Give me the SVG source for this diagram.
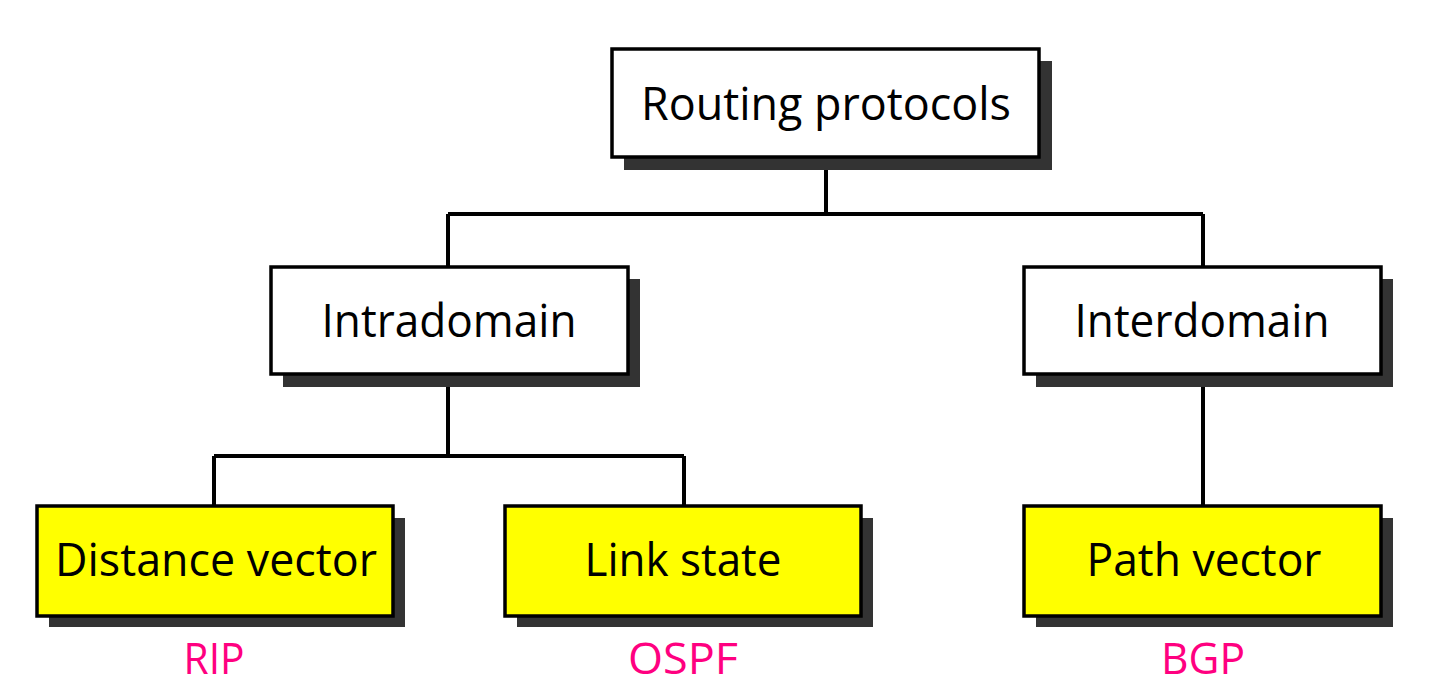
<svg xmlns="http://www.w3.org/2000/svg" width="1448" height="698" viewBox="0 0 1448 698">
<style>
.shadow{fill:#333333}
.box{stroke:#000;stroke-width:3.5}
.white{fill:#fff}
.yellow{fill:#ffff00}
.lbl{font-family:"Open Sans","Noto Sans",sans-serif;font-size:46px;fill:#000;text-anchor:middle}
.proto{font-family:"Open Sans","Noto Sans",sans-serif;font-size:44px;fill:#ff0080;text-anchor:middle}
.conn{fill:none;stroke:#000;stroke-width:4}
</style>
<rect width="1448" height="698" fill="#fff"/>
<g id="connectors">
<path class="conn" d="M826 158 V214 M448 214 H1203 M448 214 V267 M1203 214 V267"/>
<path class="conn" d="M448 374 V456 M214 456 H684 M214 456 V506 M684 456 V506"/>
<path class="conn" d="M1203 374 V506"/>
</g>
<g id="root">
<rect class="shadow" x="624" y="61" width="428" height="109"/>
<rect class="box white" x="612" y="49" width="427" height="108"/>
<text class="lbl" x="826" y="120" textLength="370" lengthAdjust="spacingAndGlyphs">Routing protocols</text>
</g>
<g id="intradomain">
<rect class="shadow" x="283" y="279" width="357" height="108"/>
<rect class="box white" x="271" y="267" width="357" height="107"/>
<text class="lbl" x="449" y="337" textLength="255" lengthAdjust="spacingAndGlyphs">Intradomain</text>
</g>
<g id="interdomain">
<rect class="shadow" x="1036" y="279" width="357" height="108"/>
<rect class="box white" x="1024" y="267" width="357" height="107"/>
<text class="lbl" x="1202" y="337" textLength="255" lengthAdjust="spacingAndGlyphs">Interdomain</text>
</g>
<g id="distance-vector">
<rect class="shadow" x="49" y="518" width="356" height="109"/>
<rect class="box yellow" x="37" y="506" width="356" height="110"/>
<text class="lbl" x="216" y="576" textLength="322" lengthAdjust="spacingAndGlyphs">Distance vector</text>
<text class="proto" x="214" y="674" textLength="61" lengthAdjust="spacingAndGlyphs">RIP</text>
</g>
<g id="link-state">
<rect class="shadow" x="517" y="518" width="356" height="109"/>
<rect class="box yellow" x="505" y="506" width="356" height="110"/>
<text class="lbl" x="683" y="576" textLength="197" lengthAdjust="spacingAndGlyphs">Link state</text>
<text class="proto" x="683" y="674" textLength="110" lengthAdjust="spacingAndGlyphs">OSPF</text>
</g>
<g id="path-vector">
<rect class="shadow" x="1036" y="518" width="357" height="109"/>
<rect class="box yellow" x="1024" y="506" width="357" height="110"/>
<text class="lbl" x="1204" y="576" textLength="235" lengthAdjust="spacingAndGlyphs">Path vector</text>
<text class="proto" x="1203" y="674" textLength="84" lengthAdjust="spacingAndGlyphs">BGP</text>
</g>
</svg>
